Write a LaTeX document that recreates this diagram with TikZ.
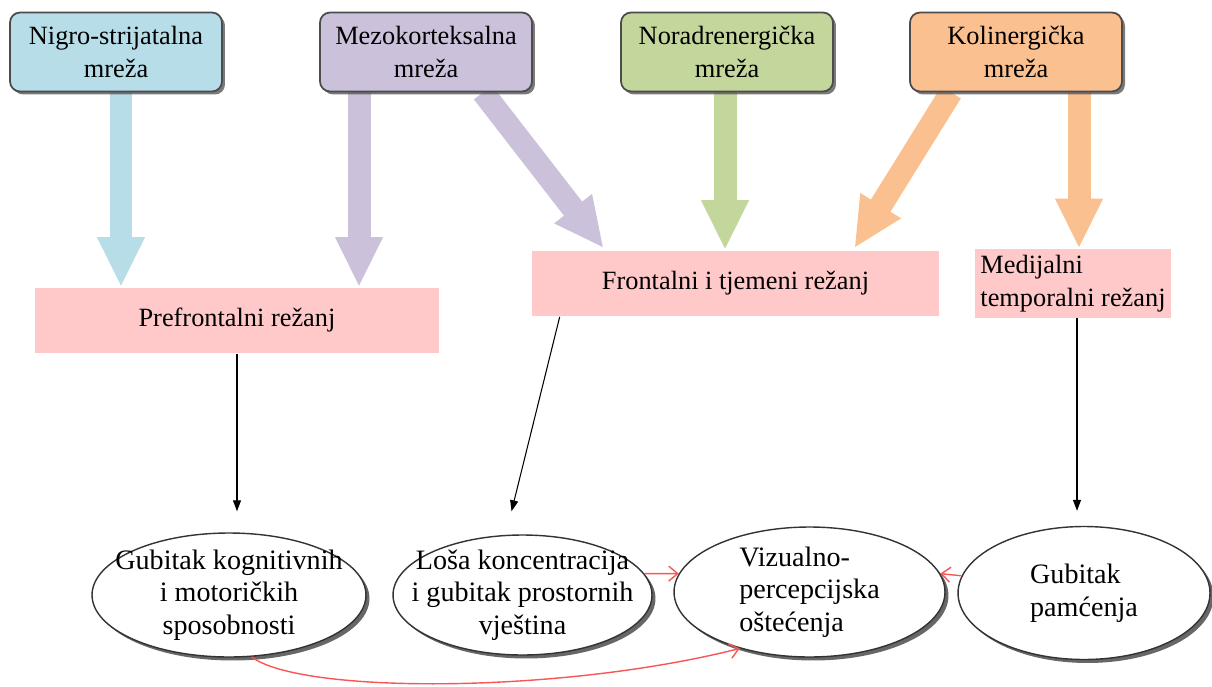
\documentclass[tikz,border=0pt]{standalone}
\usepackage{fontspec}
\setmainfont{Liberation Serif}
\usepackage{tikz}
\usetikzlibrary{arrows.meta}
\usetikzlibrary{shapes.geometric}
\usetikzlibrary{shadows}
\usetikzlibrary{backgrounds}

\definecolor{nigroblue}{RGB}{183,221,232}
\definecolor{mezolila}{RGB}{204,193,218}
\definecolor{noragreen}{RGB}{195,214,155}
\definecolor{koliorange}{RGB}{250,192,144}
\definecolor{lobepink}{RGB}{255,201,201}
\definecolor{linkred}{RGB}{250,85,85}

\begin{document}
\begin{tikzpicture} [x=0.02cm, y=-0.02cm,
  netbox/.style={draw=black!70, line width=1pt, rounded corners=0.2cm, minimum width=4.24cm, minimum height=1.58cm, align=center, font=\fontsize{15}{19}\selectfont, drop shadow={shadow xshift=0.06cm, shadow yshift=-0.06cm, fill=black!65, opacity=0.8}},
  lobebox/.style={fill=lobepink, minimum height=1.32cm, font=\fontsize{15}{19}\selectfont},
  effect/.style={ellipse, draw=black!80, line width=0.8pt, fill=white, inner xsep=-0.45cm, inner ysep=-0.3cm, font=\fontsize{16}{18.5}\selectfont, drop shadow={shadow xshift=0.07cm, shadow yshift=-0.07cm, fill=black!70, opacity=0.85}},
  fatarrow/.style={line width=0.46cm, -{Triangle[length=1cm, width=0.88cm]}},
  thinarrow/.style={black, line width=0.6pt, -{Triangle[length=0.22cm, width=0.16cm]}},
  redarrow/.style={linkred, line width=0.8pt, -{Straight Barb[length=0.18cm, width=0.3cm]}}]

\useasboundingbox (0,0) rectangle (1212,686);

% networks
\node[netbox, fill=nigroblue] (nigro) at (116,52) {Nigro-strijatalna\\mreža};
\node[netbox, fill=mezolila] (mezo) at (426,52) {Mezokorteksalna\\mreža};
\node[netbox, fill=noragreen] (nora) at (727,52) {Noradrenergička\\mreža};
\node[netbox, fill=koliorange] (koli) at (1016,52) {Kolinergička\\mreža};

% lobes
\node[lobebox, minimum width=8.08cm] (pref) at (237,320.5) {Prefrontalni režanj};
\node[lobebox, minimum width=8.14cm] (front) at (735.5,283.5) {Frontalni i tjemeni režanj};
\node[lobebox, minimum width=3.92cm, align=left] (medij) at (1073,283.5) {Medijalni\\temporalni režanj};

% effects
\node[effect, minimum width=5.48cm, minimum height=2.48cm, align=center] (kogn) at (229,595) {Gubitak kognitivnih\\i motoričkih\\sposobnosti};
\node[effect, minimum width=5.18cm, minimum height=2.4cm, align=center] (losa) at (522.5,595) {Loša koncentracija\\i gubitak prostornih\\vještina};
\node[effect, minimum width=5.42cm, minimum height=2.6cm, align=left] (vizu) at (809.5,592) {Vizualno-\\percepcijska\\oštećenja};
\node[effect, minimum width=5.04cm, minimum height=2.66cm, align=left] (pam) at (1084,593) {Gubitak\\pamćenja};

\begin{scope}[on background layer]
\draw[fatarrow, nigroblue] ([xshift=0.1cm]nigro.south) -- ([xshift=0.1cm]nigro.south |- pref.north);
\draw[fatarrow, mezolila] ([xshift=-1.34cm]mezo.south) -- ([xshift=-1.34cm]mezo.south |- pref.north);
\draw[fatarrow, mezolila] ([xshift=1.14cm]mezo.south) -- ([xshift=1.44cm, yshift=0.04cm]front.north west);
\draw[fatarrow, noragreen] ([xshift=-0.04cm]nora.south) -- ([xshift=-0.04cm]nora.south |- front.north);
\draw[fatarrow, koliorange] ([xshift=-1.3cm]koli.south) -- ([xshift=-1.7cm, yshift=0.04cm]front.north east);
\draw[fatarrow, koliorange] ([xshift=1.26cm]koli.south) -- ([xshift=1.26cm]koli.south |- medij.north);
\end{scope}

\draw[thinarrow, shorten >=0.42cm] (pref.south) -- (pref.south |- kogn.north);
\draw[thinarrow] ([xshift=0.56cm]front.south west) -- ([shift={(-0.22cm,0.46cm)}]losa.north);
\draw[thinarrow, shorten >=0.3cm] ([xshift=0.08cm]medij.south) -- ([xshift=0.08cm]medij.south |- pam.north);

\draw[redarrow] (losa.10) -- (vizu.172);
\draw[redarrow] (pam.172) -- (vizu.8);
\draw[redarrow] (kogn.290) .. controls (300,694) and (560,694) .. (vizu.219);

\end{tikzpicture}
\end{document}
